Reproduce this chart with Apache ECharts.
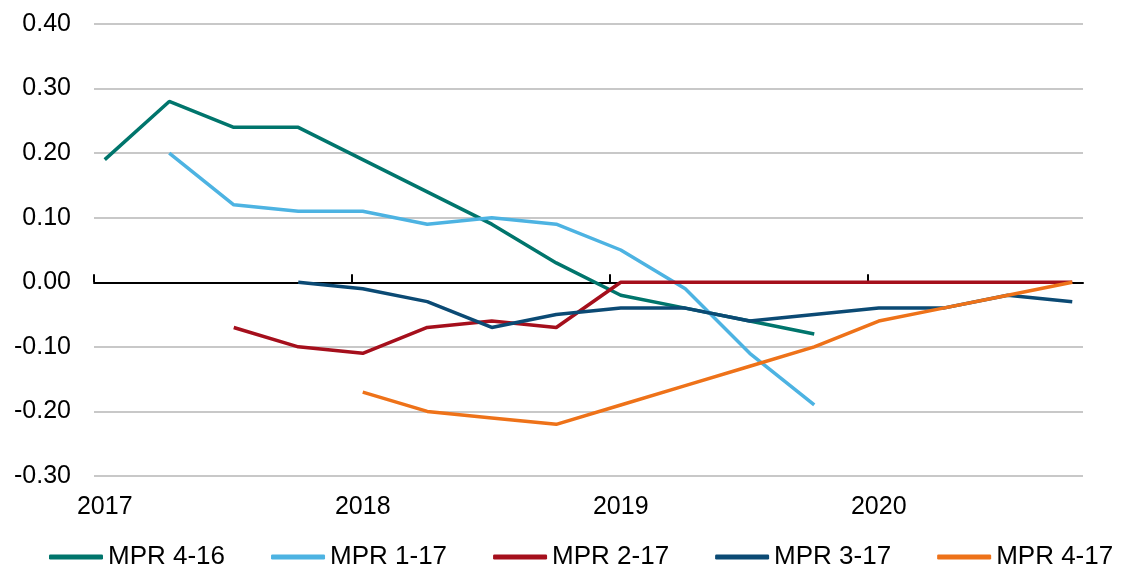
<!DOCTYPE html>
<html>
<head>
<meta charset="utf-8">
<script src="https://cdn.jsdelivr.net/npm/echarts@6/dist/echarts.min.js"></script>
<style>
html,body{margin:0;padding:0;background:#fff;}
#chart{width:1129px;height:564px;}
</style>
</head>
<body>
<div id="chart"></div>
<script>
// Quarterly periods (first month of each quarter, counted in months from Jan 2017)
const quarters = ['2017Q1','2017Q2','2017Q3','2017Q4','2018Q1','2018Q2','2018Q3','2018Q4',
                  '2019Q1','2019Q2','2019Q3','2019Q4','2020Q1','2020Q2','2020Q3','2020Q4'];
const yearLabels = ['2017','2018','2019','2020'];
const yTicks = [-0.3, -0.2, -0.1, 0.0, 0.1, 0.2, 0.3, 0.4];

const seriesNames = ['MPR 4-16','MPR 1-17','MPR 2-17','MPR 3-17','MPR 4-17'];
const mpr416 = [0.19, 0.28, 0.24, 0.24, 0.19, 0.14, 0.09, 0.03, -0.02, -0.04, -0.06, -0.08, null, null, null, null];
const mpr117 = [null, 0.20, 0.12, 0.11, 0.11, 0.09, 0.10, 0.09, 0.05, -0.01, -0.11, -0.19, null, null, null, null];
const mpr217 = [null, null, -0.07, -0.10, -0.11, -0.07, -0.06, -0.07, 0.00, 0.00, 0.00, 0.00, 0.00, 0.00, 0.00, 0.00];
const mpr317 = [null, null, null, 0.00, -0.01, -0.03, -0.07, -0.05, -0.04, -0.04, -0.06, -0.05, -0.04, -0.04, -0.02, -0.03];
const mpr417 = [null, null, null, null, -0.17, -0.20, -0.21, -0.22, -0.19, -0.16, -0.13, -0.10, -0.06, -0.04, -0.02, 0.00];

const colors = ['#00756C', '#4DB3E2', '#A50F1C', '#0B4A74', '#EE7219'];
const allValues = [mpr416, mpr117, mpr217, mpr317, mpr417];

// month position of each quarter (centre of its monthly slot on the date axis)
function monthPos(qIdx) { return qIdx * 3 + 0.5; }
const monthSpan = (quarters.length - 1) * 3 + 1; // 46 months

const FONT = "'Liberation Sans', Arial, sans-serif";

const chart = echarts.init(document.getElementById('chart'), null, {renderer: 'canvas'});

const series = seriesNames.map((name, i) => ({
  name: name,
  type: 'line',
  xAxisIndex: 0,
  yAxisIndex: 0,
  showSymbol: false,
  symbol: 'none',
  connectNulls: false,
  lineStyle: {color: colors[i], width: 3.5},
  itemStyle: {color: colors[i]},
  data: allValues[i].map((v, q) => v === null ? null : [monthPos(q), v]).filter(d => d !== null),
  animation: false
}));

const option = {
  backgroundColor: '#ffffff',
  animation: false,
  textStyle: {fontFamily: FONT},
  grid: {left: 94, right: 46, top: 24, bottom: 88, containLabel: false, outerBoundsMode: 'none'},
  legend: {
    data: seriesNames.map((n, i) => ({name: n, icon: 'roundRect', itemStyle: {color: colors[i]}})),
    left: 44,
    top: 539,
    width: 1085,
    itemWidth: 54,
    itemHeight: 5,
    itemGap: 46,
    textStyle: {fontSize: 26, color: '#000', fontFamily: FONT}
  },
  xAxis: [
    {
      type: 'value',
      min: 0,
      max: monthSpan,
      position: 'bottom',
      axisLine: {show: true, onZero: true, lineStyle: {color: '#000', width: 2}},
      axisTick: {show: true, inside: true, length: 8, lineStyle: {color: '#000', width: 2},
                 customValues: yearLabels.map((y, i) => i * 12)},
      axisLabel: {show: false},
      splitLine: {show: false}
    },
    {
      type: 'value',
      min: 0,
      max: monthSpan,
      position: 'bottom',
      axisLine: {show: false, onZero: false},
      axisTick: {show: false},
      splitLine: {show: false},
      axisLabel: {
        show: true,
        margin: 19,
        fontSize: 25,
        color: '#000',
        fontFamily: FONT,
        customValues: yearLabels.map((y, i) => i * 12 + 0.5),
        formatter: function (v) { return yearLabels[Math.round((v - 0.5) / 12)]; }
      }
    }
  ],
  yAxis: {
    type: 'value',
    min: yTicks[0],
    max: yTicks[yTicks.length - 1],
    interval: 0.1,
    axisLine: {show: false},
    axisTick: {show: false},
    axisLabel: {
      fontSize: 25, color: '#000', margin: 23, fontFamily: FONT,
      formatter: function (v) { return (Math.abs(v) < 1e-9 ? 0 : v).toFixed(2); }
    },
    splitLine: {show: true, lineStyle: {color: '#C8C8C8', width: 2}}
  },
  series: series
};

chart.setOption(option);
</script>
</body>
</html>
